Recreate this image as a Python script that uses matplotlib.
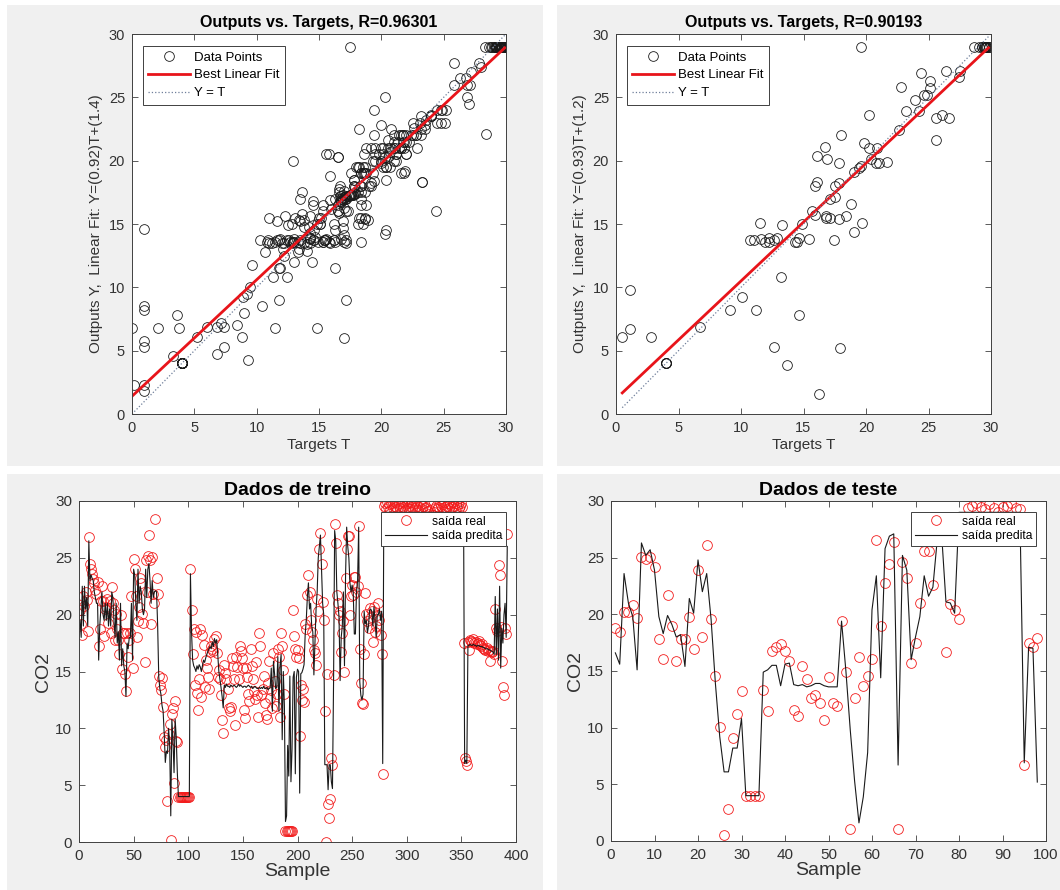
import numpy as np
import matplotlib
matplotlib.use('Agg')
import matplotlib.pyplot as plt
from matplotlib.patches import Rectangle

plt.rcParams['font.family'] = ['Liberation Sans', 'DejaVu Sans']

# ---- training set: measured CO2 and network output, one value per sample ----
train_real = [
    20.4, 19.2, 18.2, 21.6, 20.8, 22.0, 21.3, 18.6, 26.8, 24.5,   # 1-10
    24.0, 23.6, 23.1, 22.8, 22.2, 21.8, 22.9, 17.2, 18.7, 21.2,   # 11-20
    22.5, 21.2, 18.1, 20.5, 20.7, 21.4, 19.3, 21.2, 18.4, 22.4,   # 21-30
    21.0, 20.4, 17.8, 20.1, 18.7, 17.8, 16.5, 20.0, 15.2, 18.4,   # 31-40
    18.4, 14.8, 13.3, 18.4, 16.3, 17.8, 18.4, 21.6, 15.3, 24.9,   # 41-50
    24.0, 21.6, 18.0, 19.4, 20.7, 23.2, 22.8, 20.1, 19.3, 15.8,   # 51-60
    24.8, 22.0, 25.2, 27.0, 24.8, 19.2, 25.1, 21.8, 21.0, 28.4,   # 61-70
    23.2, 21.8, 14.6, 13.8, 13.4, 14.4, 11.9, 9.2, 8.4, 9.0,      # 71-80
    3.6, 9.5, 10.4, 0.2, 11.3, 11.8, 5.2, 12.4, 8.9, 8.8,         # 81-90
    4.0, 4.0, 4.0, 4.0, 4.0, 4.0, 4.0, 4.0, 4.0, 4.0, 4.0,        # 91-101
    24.0, 20.4, 16.5, 18.7, 13.8, 18.5, 13.1, 11.6, 14.3,         # 102-110
    18.7, 12.8, 18.2, 17.3, 13.6, 16.0, 15.3, 14.5, 13.5, 16.7,   # 111-120
    17.2, 17.0, 16.8, 17.9, 18.1, 16.6, 14.5, 15.1, 14.3, 12.9,   # 121-130
    10.7, 9.6, 15.6, 14.9, 14.3, 13.5, 11.8, 11.5, 11.9, 16.2,    # 131-140
    15.5, 14.3, 10.3, 16.3, 15.4, 14.3, 17.2, 16.8, 16.2, 15.3,   # 141-150
    11.6, 10.9, 15.3, 14.5, 13.0, 12.4, 17.0, 15.5, 14.3, 13.3,   # 151-160
    12.6, 15.8, 12.9, 11.0, 18.4, 17.2, 12.9, 13.5, 14.6, 12.2,   # 161-170
    11.2, 10.8, 14.0, 15.9, 12.7, 13.4, 11.8, 16.6, 14.2, 12.0,   # 171-180
    13.0, 17.0, 16.3, 11.0, 18.4, 17.2, 15.1, 13.0, 1.0, 1.0,     # 181-190
    1.0, 1.0, 1.0, 1.0, 1.0, 20.4, 18.1, 17.0, 16.3, 16.9,        # 191-200
    16.2, 9.3, 13.8, 12.5, 13.5, 12.3, 19.2, 18.7, 21.7, 23.5,    # 201-210
    22.0, 19.5, 18.5, 17.8, 16.9, 16.6, 15.6, 21.4, 20.3, 25.8,   # 211-220
    27.2, 24.5, 21.1, 19.5, 11.5, 0.0, 14.8, 3.3, 2.1, 3.8,       # 221-230
    7.4, 6.8, 14.7, 28.0, 26.3,                                   # 231-235
    21.7, 21.0, 20.0, 20.3, 16.7, 18.4, 19.4, 15.0, 23.2, 25.8,   # 236-245
    26.9, 26.9, 20.0, 21.6, 22.6,                                 # 246-250
    21.7, 23.3, 23.3, 22.0, 22.5, 27.8, 17.0, 14.0, 12.2, 12.1,   # 251-260
    16.5, 21.9,                                                   # 261-262
    20.1, 19.4, 18.8, 20.6, 19.8, 20.3, 17.6, 20.7, 18.5, 19.0,   # 263-272
    20.0, 21.0, 19.5, 18.2, 16.5, 6.0,                            # 273-278
    29.6, 29.8, 29.3, 29.9, 29.5, 29.7, 29.2, 29.8, 29.4, 29.6,   # 279-288
    29.9, 29.5, 29.3, 29.7, 29.8, 29.4, 29.6, 29.9, 29.5, 29.2,
    29.7, 29.8, 29.4, 29.6, 29.3, 29.9, 29.5, 29.7, 29.8, 29.4,
    29.6, 29.2, 29.5, 29.9, 29.7, 29.3, 29.6, 29.8, 29.4, 29.5,
    29.1, 28.9, 29.2, 28.6, 28.3, 28.8, 29.0, 29.4, 29.6, 29.3,
    29.5, 29.8, 29.6, 29.4, 29.7, 29.9, 29.5, 29.3, 29.6, 29.8,
    29.4, 29.7, 29.5, 29.9, 29.6, 29.3, 29.8, 29.5, 29.7, 29.4,
    29.6, 29.8, 29.5,                                             # ... 351
    17.5, 7.4, 7.1, 6.8,                                          # 352-355
    17.6, 16.9, 17.8, 17.7, 17.6, 17.9, 17.5, 17.6, 17.4, 17.5,   # 356-365
    17.7, 17.3, 17.2, 17.4, 17.1, 17.0, 16.9, 17.1, 16.8, 16.9,   # 366-375
    15.9, 16.8, 16.7, 16.8, 16.5,                                 # 376-380
    20.5, 18.8, 18.6, 24.4, 23.5, 18.9, 15.9, 13.6, 12.9, 18.8,   # 381-390
    18.3, 27.1,                                                   # 391-392
]

train_pred = [
    19.5, 18.0, 22.5, 19.0, 22.5, 20.5, 21.5, 19.0, 26.5, 23.0,
    23.5, 23.2, 23.0, 22.0, 21.5, 21.0, 21.0, 16.0, 19.0, 20.5,
    22.0, 20.0, 19.5, 21.0, 19.5, 21.0, 19.0, 20.5, 19.0, 22.0,
    21.5, 19.5, 18.0, 21.0, 17.5, 18.5, 16.0, 21.0, 15.5, 17.0,
    15.5, 15.0, 12.8, 17.5, 17.0, 18.0, 18.0, 21.0, 16.0, 24.0,
    23.5, 21.0, 19.5, 24.0, 21.0, 22.5, 22.0, 20.5, 20.0, 20.5,
    24.0, 21.5, 24.0, 24.5, 23.0, 21.0, 23.0, 21.5, 22.0, 22.1,
    22.0, 19.0, 14.5, 13.5, 13.0, 12.0, 11.5, 9.5, 7.0, 8.0,
    7.8, 10.0, 8.5, 2.3, 10.8, 9.0, 6.1, 10.8, 9.2, 6.1,
    4.0, 4.0, 4.0, 4.0, 4.0, 4.0, 4.0, 4.0, 4.0, 4.0, 4.0,
    23.6, 18.5, 16.0, 15.5, 15.3, 15.0, 15.5, 15.2, 15.6,
    15.4, 15.0, 15.5, 16.0, 15.8, 16.2, 16.5, 16.8, 17.0, 17.2,
    17.0, 17.6, 17.2, 17.9, 17.5, 17.8, 16.5, 15.0, 14.3, 13.6,
    12.8, 11.8, 13.8, 13.6, 13.9, 13.7, 13.7, 13.6, 13.8, 13.7,
    13.7, 13.8, 13.7, 13.6, 13.7, 13.9, 13.7, 13.8, 13.7, 13.6,
    13.7, 13.7, 13.6, 13.7, 13.8, 13.7, 13.6, 13.7, 13.5, 13.6,
    13.7, 13.6, 13.5, 13.5, 13.6, 13.5, 13.6, 13.5, 13.7, 13.5,
    13.5, 13.6, 13.4, 13.5, 13.6, 15.3, 11.5, 15.9, 14.8, 13.5,
    13.6, 16.3, 11.5, 15.5, 16.5, 9.0, 15.0, 12.0, 1.8, 2.3,
    8.5, 5.8, 14.6, 5.3, 8.2, 14.5, 15.0, 6.0, 14.5, 15.2,
    15.0, 4.3, 14.8, 14.9, 15.2, 15.6, 18.2, 19.5, 21.5, 22.8,
    20.5, 21.0, 19.0, 18.5, 14.7, 17.5, 20.5, 22.0, 25.0, 26.0,
    27.0, 24.0, 21.0, 20.0, 6.8, 6.8, 6.8, 4.6, 6.8, 6.8,
    5.3, 4.7, 14.0, 27.4, 26.5,
    22.0, 21.0, 19.8, 14.2, 18.0, 19.0, 22.0, 15.5, 23.5, 27.7,
    26.0, 25.0, 22.8, 22.0, 22.6,
    22.0, 18.3, 18.3, 22.0, 23.0, 27.7, 14.1, 12.9, 12.5, 13.0,
    20.3, 19.2,
    19.5, 18.4, 19.0, 20.4, 20.5, 20.3, 19.0, 20.7, 19.5, 18.0,
    20.0, 20.0, 20.5, 19.5, 20.3, 6.9,
] + [29.0] * 73 + [
    29.0, 6.9, 7.2, 6.9,
    17.3, 17.3, 17.4, 17.3, 17.3, 17.4, 17.3, 17.3, 17.2, 17.3,
    17.3, 17.2, 17.2, 17.2, 17.1, 17.1, 17.0, 17.0, 17.0, 16.9,
    16.9, 16.8, 16.8, 16.7, 16.5,
    21.6, 16.5, 20.5, 16.0, 22.5, 15.3, 18.8, 17.5, 20.0, 21.0,
    18.0, 26.0,
]

# ---- test set ----
test_real = [
    18.8, 18.4, 20.2, 20.2, 20.8, 19.7, 25.1, 24.9, 25.1, 24.2,
    17.8, 16.1, 21.7, 19.0, 15.9, 17.8, 17.8, 19.8, 16.9, 23.9,
    18.0, 26.1, 19.6, 14.6, 10.1, 0.5, 2.8, 9.1, 11.2, 13.2,
    4.0, 4.0, 4.0, 4.0, 13.3, 11.5, 16.8, 17.1, 17.4, 16.8,
    15.9, 11.6, 11.0, 15.4, 14.3, 12.6, 12.9, 12.2, 10.7, 14.5,
    12.2, 11.9, 19.4, 14.9, 1.1, 12.6, 16.2, 13.7, 14.6, 16.1,
    26.6, 19.0, 22.8, 24.4, 26.4, 1.1, 24.6, 23.2, 15.7, 17.5,
    21.0, 25.6, 25.6, 22.6, 27.4, 27.5, 16.7, 20.9, 20.4, 19.6,
    28.6, 29.4, 29.6, 29.8, 29.5, 29.3, 29.7, 29.4, 29.0, 29.5,
    29.6, 29.8, 29.4, 29.3, 6.7, 17.5, 17.1, 17.9,
]

test_pred = [
    16.6, 15.6, 23.6, 21.0, 19.8, 15.1, 26.3, 25.2, 25.7, 23.9,
    19.8, 18.3, 19.9, 19.1, 18.0, 18.2, 15.4, 21.4, 20.1, 24.8,
    22.0, 23.6, 19.6, 13.9, 9.2, 6.1, 6.1, 8.2, 8.2, 10.8,
    4.0, 4.0, 4.0, 4.0, 14.9, 15.1, 15.5, 15.5, 13.7, 15.6,
    15.7, 13.8, 13.7, 13.8, 13.6, 13.7, 13.9, 13.9, 13.7, 13.6,
    13.6, 13.6, 19.4, 15.0, 9.8, 5.3, 1.6, 3.9, 7.8, 20.4,
    23.4, 14.4, 25.8, 26.9, 27.1, 6.7, 25.2, 23.9, 16.0, 18.0,
    19.8, 23.4, 21.6, 22.4, 26.6, 27.1, 21.1, 21.0, 20.1, 29.0,
    29.0, 29.0, 29.0, 29.0, 29.0, 29.0, 29.0, 29.0, 29.0, 29.0,
    29.0, 29.0, 29.0, 29.0, 6.9, 17.1, 17.0, 5.2,
]

# regression results shown on the scatter panels
train_fit = (0.92, 1.4, 0.96301)
test_fit = (0.93, 1.2, 0.90193)

W, H = 1060, 890
fig = plt.figure(figsize=(W / 100, H / 100), dpi=100, facecolor='white')


def px(x0, y0, x1, y1):
    return [x0 / W, 1 - y1 / H, (x1 - x0) / W, (y1 - y0) / H]


# grey window backgrounds of the four figures
for x0, y0, x1, y1 in [(7, 5, 543, 466), (557, 5, 1060, 466),
                       (7, 474, 543, 890), (557, 474, 1060, 890)]:
    fig.patches.append(Rectangle((x0 / W, 1 - y1 / H), (x1 - x0) / W, (y1 - y0) / H,
                                 transform=fig.transFigure, facecolor='#f0f0f0',
                                 edgecolor='none', zorder=-10))

edge = '#404040'


def style(ax, fs):
    ax.set_zorder(5)
    ax.set_facecolor('white')
    for sp in ax.spines.values():
        sp.set_color(edge)
        sp.set_linewidth(0.7)
    ax.tick_params(direction='in', top=True, right=True, length=4, width=0.6,
                   color=edge, labelcolor='#333333', labelsize=fs, pad=5)


def regression(rect, real, pred, fit):
    slope, icpt, r = fit
    t = np.asarray(real)
    y = np.asarray(pred)
    ax = fig.add_axes(px(*rect))
    ax.plot(t, y, 'o', mfc='none', mec='#1a1a1a', ms=7, mew=0.6, label='Data Points')
    tx = np.array([t.min(), t.max()])
    ax.plot(tx, slope * tx + icpt, color='#e8141a', lw=2.0, label='Best Linear Fit')
    ax.plot(tx, tx, ':', color='#6f7f9a', lw=0.9, label='Y = T')
    ax.set_xlim(0, 30)
    ax.set_ylim(0, 30)
    ax.set_xticks(np.arange(0, 31, 5))
    ax.set_yticks(np.arange(0, 31, 5))
    style(ax, 10.5)
    ax.set_title(f'Outputs vs. Targets, R={r:.5f}', fontsize=11.5, fontweight='bold', pad=5)
    ax.set_xlabel('Targets T', fontsize=11, color='#333333', labelpad=2)
    ax.set_ylabel(f'Outputs Y,  Linear Fit: Y=({slope:.2f})T+({icpt:.1f})',
                  fontsize=11, color='#333333', labelpad=4)
    leg = ax.legend(loc='upper left', bbox_to_anchor=(0.029, 0.968), borderaxespad=0,
                    fontsize=9.5, fancybox=False, framealpha=1, edgecolor=edge,
                    handlelength=3.2, handletextpad=0.3, labelspacing=0.42,
                    borderpad=0.4, markerfirst=True)
    leg.get_frame().set_linewidth(0.7)
    return ax


def series(rect, real, pred, xmax, title):
    s = np.arange(1, len(real) + 1)
    ax = fig.add_axes(px(*rect))
    ax.plot(s, real, 'o', mfc='none', mec='#f21c1c', ms=7, mew=0.6, label='saída real')
    ax.plot(s, pred, '-', color='#1a1a1a', lw=0.8, label='saída predita')
    ax.set_xlim(0, xmax)
    ax.set_ylim(0, 30)
    ax.set_yticks(np.arange(0, 31, 5))
    style(ax, 11)
    ax.set_title(title, fontsize=14, fontweight='bold', pad=4)
    ax.set_xlabel('Sample', fontsize=14, color='#333333', labelpad=0)
    ax.set_ylabel('CO2', fontsize=14, color='#333333', labelpad=2)
    leg = ax.legend(loc='upper right', bbox_to_anchor=(0.977, 0.968), borderaxespad=0,
                    fontsize=8.7, fancybox=False, framealpha=1, edgecolor=edge,
                    handlelength=3.5, handletextpad=0.4, labelspacing=0.2,
                    borderpad=0.3)
    leg.get_frame().set_linewidth(0.7)
    return ax


regression((132, 34, 506, 414), train_real, train_pred, train_fit)
regression((616, 34, 991, 414), test_real, test_pred, test_fit)

tr = series((79, 501, 516, 842), train_real, train_pred, 400, 'Dados de treino')
tr.set_xticks(np.arange(0, 401, 50))
te = series((611, 501, 1046, 841), test_real, test_pred, 100, 'Dados de teste')
te.set_xticks(np.arange(0, 101, 10))

fig.savefig('out.png', dpi=100, facecolor=fig.get_facecolor())
